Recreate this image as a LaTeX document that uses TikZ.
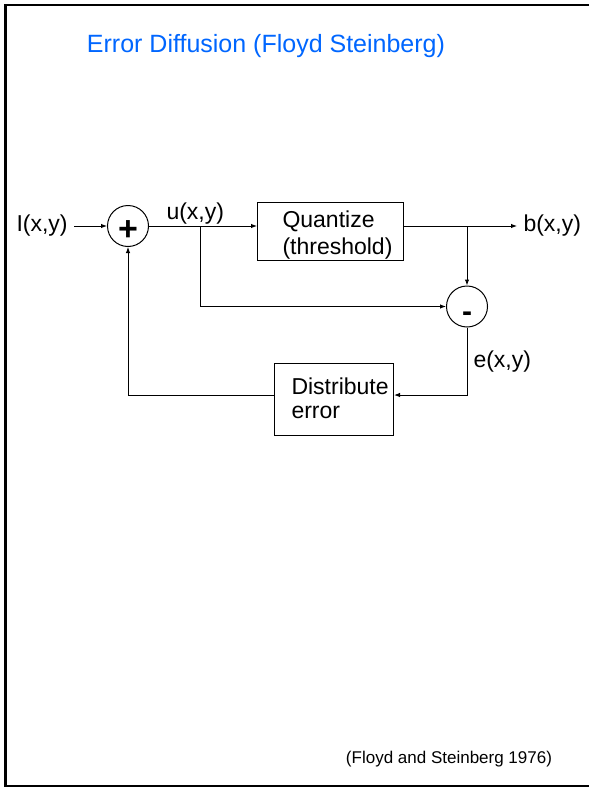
\documentclass[tikz,border=0pt]{standalone}
\usepackage{fontspec}
\setmainfont{Liberation Sans}
\usetikzlibrary{arrows.meta}
\definecolor{titleblue}{RGB}{0,102,255}
\begin{document}
\begin{tikzpicture}[x=1pt,y=-1pt,line width=1pt,
  lbl/.style={font=\fontsize{23}{27}\selectfont,inner sep=0pt},
  blk/.style={draw,rectangle,inner sep=0pt},
  sumnode/.style={draw,circle,minimum size=41pt,inner sep=0pt},
  arr/.style={-{Latex[length=6pt,width=4.5pt]}},
  sign/.style={font=\bfseries\fontsize{34}{34}\selectfont,inner sep=0pt}]
\useasboundingbox (0,0) rectangle (589,787);
\draw[line width=2.2pt] (589,5) -- (5.5,5) -- (5.5,786) -- (589,786);
% texts
\node[lbl,text=titleblue,font=\fontsize{25}{30}\selectfont,anchor=base] (title) at (266,52) {Error Diffusion (Floyd Steinberg)};
\node[lbl,font=\fontsize{17}{20}\selectfont] (ref) at (449,759) {(Floyd and Steinberg 1976)};
\node[lbl,anchor=west] (I) at (16,226) {I(x,y)};
\node[lbl,anchor=west] (u) at (166,214) {u(x,y)};
\node[lbl,anchor=west] (b) at (523,226) {b(x,y)};
\node[lbl,anchor=west] (e) at (473,362) {e(x,y)};
% blocks
\node[sumnode] (plus) at (128,226) {};
\node[sign] (plussign) at (128,231) {+};
\node[sumnode] (minus) at (467,306.5) {};
\node[sign,font=\bfseries\fontsize{30}{30}\selectfont,anchor=base] (minussign) at (467,321) {-};
\node[blk,minimum width=146pt,minimum height=58pt,anchor=north west] (Q) at (257,202) {};
\node[lbl,anchor=base west] (Qt1) at (282,227) {Quantize};
\node[lbl,anchor=base west] (Qt2) at (282,254) {(threshold)};
\node[blk,minimum width=119pt,minimum height=72pt,anchor=north west] (D) at (274,363) {};
\node[lbl,anchor=base west] (Dt1) at (291,394) {Distribute};
\node[lbl,anchor=base west] (Dt2) at (291,418) {error};
% coordinates
\coordinate (ub) at (200,226);
\coordinate (bb) at (467,226);
\coordinate (ec) at (467,395);
% connectors
\draw[arr,shorten <=6pt] (I.east) -- (plus.west);
\draw[arr] (plus.east) -- (plus.east -| Q.west);
\draw[arr] (ub) |- (minus.west);
\draw[arr,shorten >=6pt] (Q.east |- plus.east) -- (b.west);
\draw[arr] (bb) -- (minus.north);
\draw[arr] (minus.south) -- (ec) -- (ec -| D.east);
\draw[arr] (D.west |- ec) -| (plus.south);
\end{tikzpicture}
\end{document}
